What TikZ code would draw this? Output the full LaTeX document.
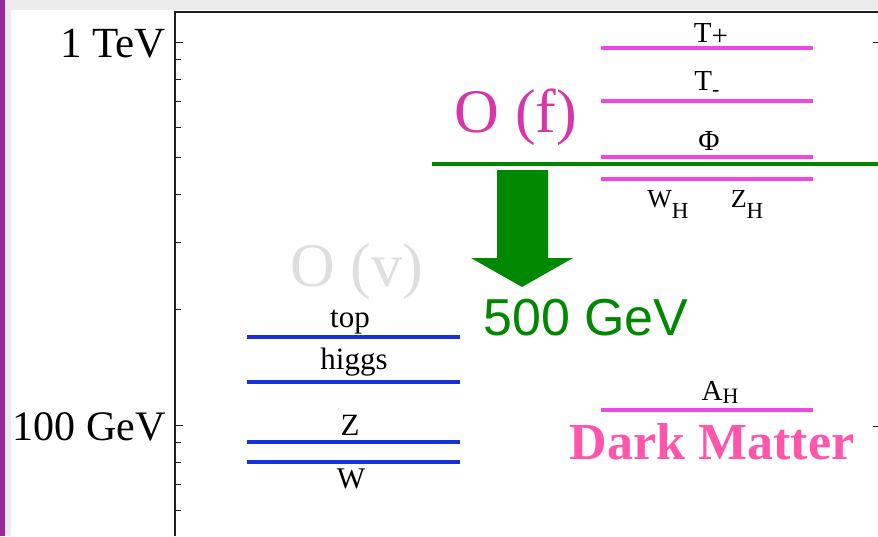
\documentclass[tikz,border=0pt]{standalone}
\usepackage{fontspec}
\setmainfont{Liberation Serif}
\newfontfamily\sansf{Liberation Sans}
\newcommand\fsz[1]{\fontsize{#1}{#1}\selectfont}
\definecolor{frameC}{RGB}{30,30,30}
\definecolor{grayBG}{RGB}{235,235,235}
\definecolor{purpleBar}{RGB}{153,41,153}
\definecolor{lvlMag}{RGB}{240,70,230}
\definecolor{lvlBlue}{RGB}{20,50,220}
\definecolor{grn}{RGB}{0,136,0}
\definecolor{ofC}{RGB}{214,54,170}
\definecolor{dmC}{RGB}{255,85,170}
\definecolor{ovC}{RGB}{222,222,222}
\begin{document}
\begin{tikzpicture}[x=1pt,y=-1pt,
  lbl/.style={inner sep=0pt,anchor=base,text=black},
  maglvl/.style={draw=lvlMag,line width=3.2pt},
  bluelvl/.style={draw=lvlBlue,line width=3.4pt},
  tickmaj/.style={draw=frameC,line width=1pt},
  tickmin/.style={draw=frameC,line width=0.9pt}]
\useasboundingbox (0,0) rectangle (878,536);
% background
\fill[white] (0,0) rectangle (878,536);
\fill[grayBG] (0,0) rectangle (878,10);
\fill[grayBG] (0,0) rectangle (11,536);
\fill[purpleBar] (0,0) rectangle (4.5,536);
% frame
\draw[frameC,line width=1.3pt] (175,536) -- (175,12) -- (878,12);
% major ticks
\foreach \yy in {42,425} {\draw[tickmaj] (175,\yy) -- (183,\yy);}
\foreach \yy in {42,426} {\draw[tickmaj] (873,\yy) -- (878,\yy);}
% minor ticks
\foreach \yy in {59.5,79.1,101.3,127,157.3,194.4,242.3,309.7,442.5,462,484,510}
  {\draw[tickmin] (175,\yy) -- (180.5,\yy);}
% axis labels
\node[lbl,anchor=base east] (tev) at (166,57) {\fsz{43}1 TeV};
\node[lbl,anchor=base east] (gev) at (166,440) {\fsz{42}100 GeV};
% O(v) and SM levels
\node[lbl,text=ovC] (ov) at (357,286) {\fsz{62}O (v)};
\draw[bluelvl] (247,337) -- (460,337);
\draw[bluelvl] (247,382) -- (460,382);
\draw[bluelvl] (247,442) -- (460,442);
\draw[bluelvl] (247,462) -- (460,462);
\node[lbl] (top) at (350,327) {\fsz{31}top};
\node[lbl] (higgs) at (354,369) {\fsz{31}higgs};
\node[lbl] (zb) at (350,435) {\fsz{31}Z};
\node[lbl] (wb) at (351,488) {\fsz{30}W};
% heavy levels
\draw[maglvl] (601,48) -- (813,48);
\draw[maglvl] (601,101) -- (813,101);
\draw[maglvl] (601,157) -- (813,157);
\draw[maglvl] (601,179) -- (813,179);
\draw[maglvl] (601,410) -- (813,410);
\node[lbl] (tp) at (711,42) {\fsz{29}T\raisebox{-3pt}{\fsz{29}+}};
\node[lbl] (tm) at (707,90) {\fsz{29}T\raisebox{-6pt}{\fsz{22}-}};
\node[lbl] (phi) at (709,150) {\fsz{29}Φ};
\node[lbl] (wh) at (668,207) {\fsz{26}W\raisebox{-11pt}{\fsz{23}H}};
\node[lbl] (zh) at (747,207) {\fsz{26}Z\raisebox{-11pt}{\fsz{23}H}};
\node[lbl] (ah) at (720,400) {\fsz{29}A\raisebox{-3pt}{\fsz{22}H}};
% O(f)
\node[lbl,text=ofC] (of) at (516,132) {\fsz{62}O (f)};
% green scale line and arrow
\draw[grn,line width=4.5pt] (432,164) -- (878,164);
\fill[grn] (497,170) -- (548,170) -- (548,258) -- (573,258) -- (522,287)
  -- (471,258) -- (497,258) -- cycle;
\node[lbl,text=grn] (fivehundred) at (586,335) {\sansf\fsz{52}500 GeV};
% dark matter
\node[lbl,text=dmC] (dm) at (712,459) {\fsz{52}\bfseries Dark Matter};
\end{tikzpicture}
\end{document}
